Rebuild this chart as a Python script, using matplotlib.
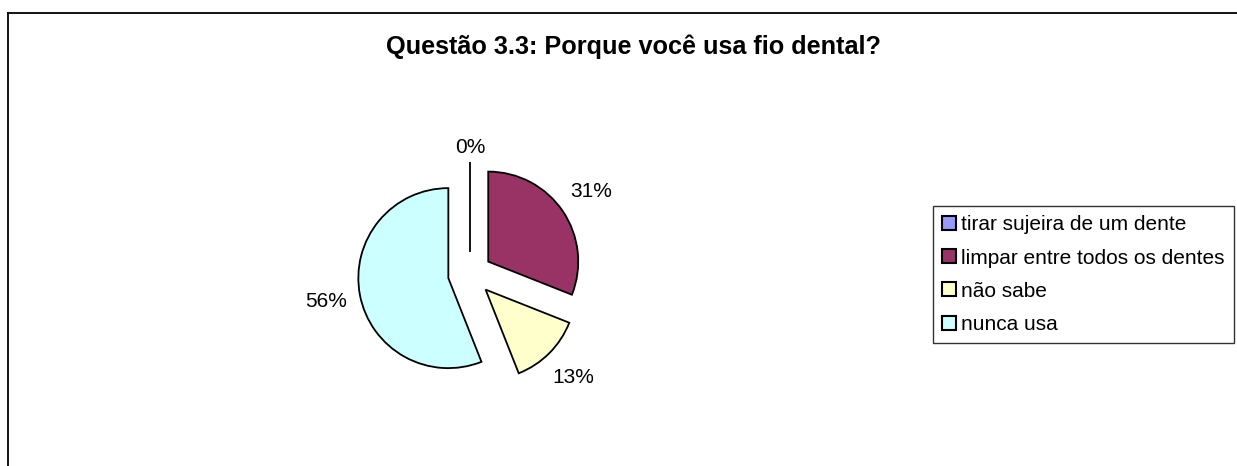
import matplotlib
matplotlib.use("Agg")
import matplotlib.pyplot as plt
from matplotlib.patches import Patch
from matplotlib.lines import Line2D
import numpy as np

plt.rcParams['font.family'] = ['Liberation Sans', 'DejaVu Sans']

# data
categorias = ["tirar sujeira de um dente", "limpar entre todos os dentes",
              "não sabe", "nunca usa"]
percentuais = [0, 31, 13, 56]
cores = ["#9999FF", "#993366", "#FFFFCC", "#CCFFFF"]
titulo = "Questão 3.3: Porque você usa fio dental?"

W, H = 1237, 466
fig = plt.figure(figsize=(W / 100, H / 100), dpi=100)

# pie axes: centre at (470, 274) px, radius 90 px
cx, cy, r = 470, 274, 90
ax = fig.add_axes([(cx - 2 * r) / W, (H - cy - 2 * r) / H, 4 * r / W, 4 * r / H])

explode = [0.245] * len(percentuais)
wedges, texts = ax.pie(percentuais, colors=cores, startangle=90, counterclock=False,
                       explode=explode, radius=1,
                       labels=[f"{p}%" for p in percentuais], labeldistance=1.38,
                       wedgeprops=dict(edgecolor="black", linewidth=1.3),
                       textprops=dict(fontsize=15))
ax.set_xlim(-2, 2)
ax.set_ylim(-2, 2)
ax.set_aspect("equal")
ax.axis("off")

for t, w, e in zip(texts, wedges, explode):
    ang = np.deg2rad((w.theta1 + w.theta2) / 2)
    d = 1.38 if w.theta2 - w.theta1 > 0 else 1.16
    t.set_position((e * np.cos(ang) + d * np.cos(ang),
                    e * np.sin(ang) + d * np.sin(ang)))
    t.set_horizontalalignment("center")
    t.set_verticalalignment("center")

fig.text(634 / W, 1 - 47 / H, titulo, ha="center", va="center",
         fontsize=18.2, fontweight="bold")

handles = [Patch(facecolor=c, edgecolor="black", linewidth=1.5) for c in cores]
leg = fig.legend(handles, categorias, loc="upper left",
                 bbox_to_anchor=(933 / W, 1 - 206 / H), fontsize=15,
                 frameon=True, fancybox=False, edgecolor="black",
                 handlelength=0.65, handleheight=0.65, handletextpad=0.25,
                 labelspacing=0.68, borderpad=0.45, borderaxespad=0)
leg.get_frame().set_linewidth(1.0)

# outer chart border (left and top only visible)
fig.add_artist(Line2D([8 / W, 8 / W], [0, 1 - 13 / H], color="black", lw=1.3))
fig.add_artist(Line2D([8 / W, 1], [1 - 13 / H, 1 - 13 / H], color="black", lw=1.3))

fig.savefig("out.png", dpi=100)
